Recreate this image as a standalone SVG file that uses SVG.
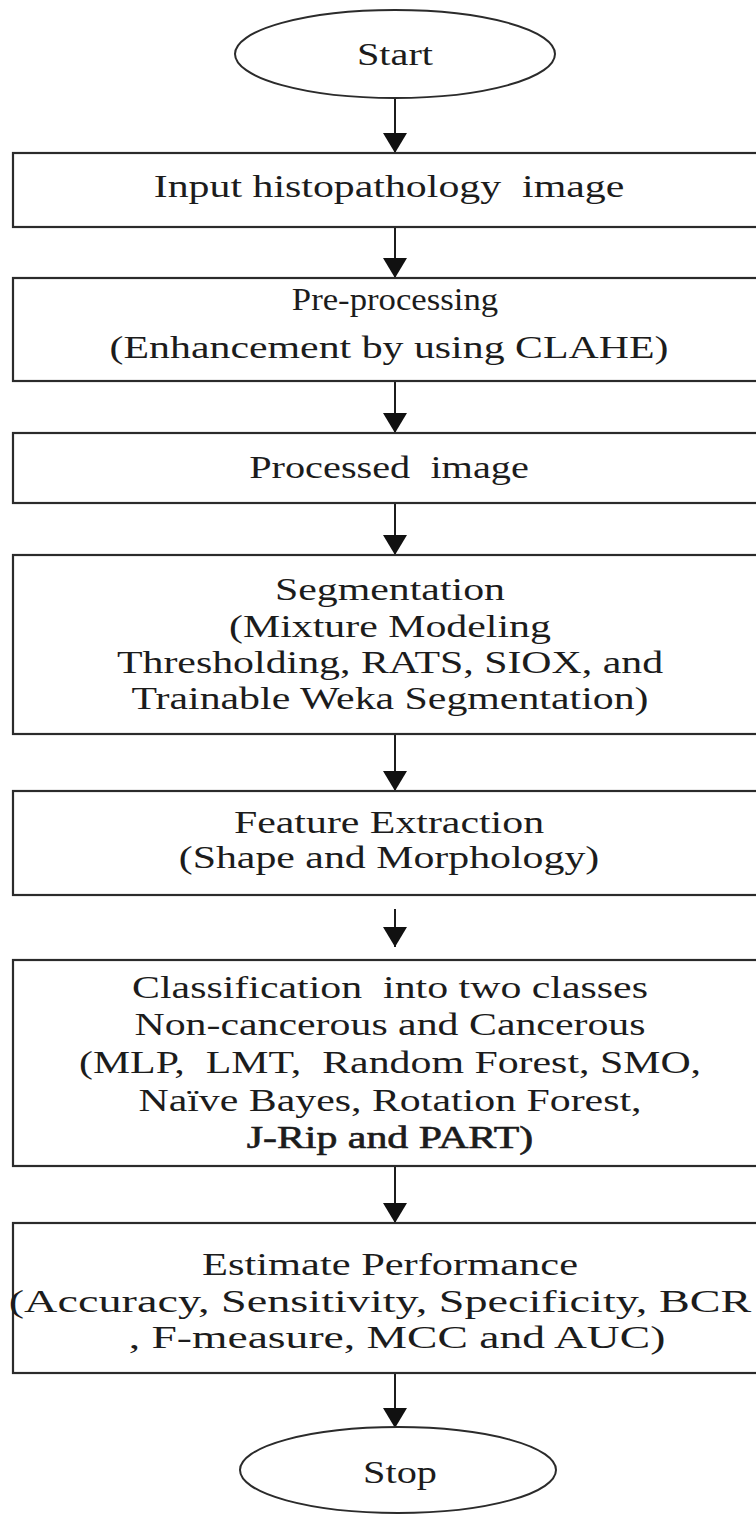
<svg xmlns="http://www.w3.org/2000/svg" width="756" height="1516" viewBox="0 0 756 1516">
  <style>
    .box { fill: #ffffff; stroke: #2b2b2b; stroke-width: 2.2; }
    .term { fill: #ffffff; stroke: #2b2b2b; stroke-width: 2; }
    .lbl { font-family: "Liberation Serif", "Times New Roman", serif; font-size: 31px; fill: #1c1c1c; text-anchor: middle; }
    .dark { stroke: #1c1c1c; stroke-width: 0.6; }
    .flow { stroke: #1c1c1c; stroke-width: 2; fill: none; marker-end: url(#head); }
  </style>
  <defs>
    <marker id="head" viewBox="0 0 20 24" markerWidth="20" markerHeight="24" refX="20" refY="12" orient="auto" markerUnits="userSpaceOnUse">
      <path d="M0,0 L20,12 L0,24 Z" fill="#111111"/>
    </marker>
  </defs>
  <rect width="756" height="1516" fill="#ffffff"/>

  <!-- connectors -->
  <g id="connectors">
    <line class="flow" x1="395" y1="98" x2="395" y2="153"/>
    <line class="flow" x1="395" y1="227" x2="395" y2="278"/>
    <line class="flow" x1="395" y1="381" x2="395" y2="433"/>
    <line class="flow" x1="395" y1="503" x2="395" y2="555"/>
    <line class="flow" x1="395" y1="734" x2="395" y2="791"/>
    <line class="flow" x1="395" y1="909" x2="395" y2="947"/>
    <line class="flow" x1="395" y1="1166" x2="395" y2="1223"/>
    <line class="flow" x1="395" y1="1373" x2="395" y2="1428"/>
  </g>

  <g id="start">
    <ellipse class="term" cx="395" cy="54" rx="160" ry="44"/>
    <g transform="translate(395 0) scale(1.3 1)">
      <text class="lbl" x="0" y="65">Start</text>
    </g>
  </g>

  <g id="input-image">
    <rect class="box" x="13" y="153" width="760" height="74"/>
    <g transform="translate(389 0) scale(1.35 1)">
      <text class="lbl" x="0" y="197" xml:space="preserve">Input histopathology  image</text>
    </g>
  </g>

  <g id="pre-processing">
    <rect class="box" x="13" y="278" width="760" height="103"/>
    <g transform="translate(395 0) scale(1.12 1)">
      <text class="lbl" x="0" y="310">Pre-processing</text>
    </g>
    <g transform="translate(389 0) scale(1.35 1)">
      <text class="lbl" x="0" y="358">(Enhancement by using CLAHE)</text>
    </g>
  </g>

  <g id="processed-image">
    <rect class="box" x="13" y="433" width="760" height="70"/>
    <g transform="translate(389 0) scale(1.3 1)">
      <text class="lbl" x="0" y="478" xml:space="preserve">Processed  image</text>
    </g>
  </g>

  <g id="segmentation">
    <rect class="box" x="13" y="555" width="760" height="179"/>
    <g transform="translate(390 0) scale(1.35 1)">
      <text class="lbl" x="0" y="600">Segmentation</text>
      <text class="lbl" x="0" y="637">(Mixture Modeling</text>
      <text class="lbl" x="0" y="673">Thresholding, RATS, SIOX, and</text>
      <text class="lbl" x="0" y="709">Trainable Weka Segmentation)</text>
    </g>
  </g>

  <g id="feature-extraction">
    <rect class="box" x="13" y="791" width="760" height="104"/>
    <g transform="translate(389 0) scale(1.35 1)">
      <text class="lbl" x="0" y="833">Feature Extraction</text>
      <text class="lbl" x="0" y="868">(Shape and Morphology)</text>
    </g>
  </g>

  <g id="classification">
    <rect class="box" x="13" y="960" width="760" height="206"/>
    <g transform="translate(390 0) scale(1.35 1)">
      <text class="lbl" x="0" y="998" xml:space="preserve">Classification  into two classes</text>
      <text class="lbl" x="0" y="1035">Non-cancerous and Cancerous</text>
      <text class="lbl" x="0" y="1073" xml:space="preserve">(MLP,  LMT,  Random Forest, SMO,</text>
      <text class="lbl" x="0" y="1111">Naïve Bayes, Rotation Forest,</text>
      <text class="lbl dark" x="0" y="1148">J-Rip and PART)</text>
    </g>
  </g>

  <g id="estimate-performance">
    <rect class="box" x="13" y="1223" width="760" height="150"/>
    <g transform="translate(390 0) scale(1.37 1)">
      <text class="lbl" x="0" y="1275">Estimate Performance</text>
    </g>
    <g transform="translate(380 0) scale(1.49 1)">
      <text class="lbl" x="0" y="1312">(Accuracy, Sensitivity, Specificity, BCR</text>
    </g>
    <g transform="translate(397 0) scale(1.47 1)">
      <text class="lbl" x="0" y="1348">, F-measure, MCC and AUC)</text>
    </g>
  </g>

  <g id="stop">
    <ellipse class="term" cx="398" cy="1470" rx="158" ry="43"/>
    <g transform="translate(400 0) scale(1.3 1)">
      <text class="lbl" x="0" y="1483">Stop</text>
    </g>
  </g>
</svg>
